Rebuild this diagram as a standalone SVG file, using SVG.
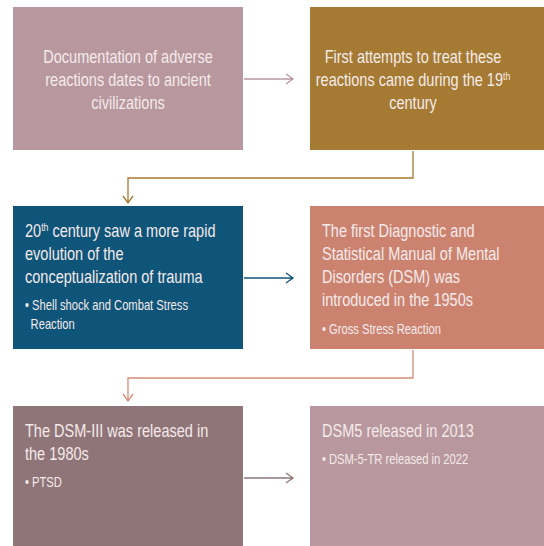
<svg xmlns="http://www.w3.org/2000/svg" width="544" height="546" viewBox="0 0 544 546">
<style>
text{font-family:"Liberation Sans",Arial,sans-serif;fill:#F4EAEA}
.m{font-size:17.5px}
.c{text-anchor:middle}
.b{font-size:14px}
.s{font-size:10.5px}
.ln{fill:none;stroke-width:1.3}
</style>
<rect width="544" height="546" fill="#fff"/>
<g id="n1"><rect x="13" y="7" width="230" height="143" fill="#B8989E"/>
<g transform="translate(128 0) scale(0.83 1)">
<text class="m c" x="0" y="63">Documentation of adverse</text>
<text class="m c" x="0" y="86">reactions dates to ancient</text>
<text class="m c" x="0" y="109">civilizations</text></g></g>
<g id="n2"><rect x="310" y="7" width="234" height="143" fill="#A57A32"/>
<g transform="translate(413 0) scale(0.83 1)">
<text class="m c" x="0" y="63">First attempts to treat these</text>
<text class="m c" x="0" y="86">reactions came during the 19<tspan class="s" dy="-6">th</tspan></text>
<text class="m c" x="0" y="109">century</text></g></g>
<g id="n3"><rect x="13" y="206" width="230" height="143" fill="#0F5479"/>
<g transform="translate(25 0) scale(0.83 1)">
<text class="m" x="0" y="237">20<tspan class="s" dy="-6">th</tspan><tspan dy="6"> century saw a more rapid</tspan></text>
<text class="m" x="0" y="260">evolution of the</text>
<text class="m" x="0" y="283">conceptualization of trauma</text></g>
<g transform="translate(25 0) scale(0.8 1)">
<text class="b" x="0" y="310">• Shell shock and Combat Stress</text>
<text class="b" x="7" y="329">Reaction</text></g></g>
<g id="n4"><rect x="310" y="206" width="234" height="143" fill="#CB8370"/>
<g transform="translate(322 0) scale(0.83 1)">
<text class="m" x="0" y="237">The first Diagnostic and</text>
<text class="m" x="0" y="260">Statistical Manual of Mental</text>
<text class="m" x="0" y="283">Disorders (DSM) was</text>
<text class="m" x="0" y="306">introduced in the 1950s</text></g>
<g transform="translate(322 0) scale(0.8 1)">
<text class="b" x="0" y="334">• Gross Stress Reaction</text></g></g>
<g id="n5"><rect x="13" y="406" width="230" height="140" fill="#907578"/>
<g transform="translate(25 0) scale(0.83 1)">
<text class="m" x="0" y="437">The DSM-III was released in</text>
<text class="m" x="0" y="460">the 1980s</text></g>
<g transform="translate(25 0) scale(0.8 1)">
<text class="b" x="0" y="487">• PTSD</text></g></g>
<g id="n6"><rect x="310" y="406" width="234" height="140" fill="#B8989E"/>
<g transform="translate(322 0) scale(0.83 1)">
<text class="m" x="0" y="437">DSM5 released in 2013</text></g>
<g transform="translate(322 0) scale(0.8 1)">
<text class="b" x="0" y="464">• DSM-5-TR released in 2022</text></g></g>
<g id="connectors">
<path class="ln" stroke="#B8989E" d="M244 79H293M286 74L293 79L286 84"/>
<path class="ln" stroke="#A57A32" d="M413 151V178H128V203M123 196L128 203L133 196"/>
<path class="ln" stroke="#0F5479" d="M244 278H293M286 273L293 278L286 283"/>
<path class="ln" stroke="#D88C75" d="M413 350V378H128V401M123 394L128 401L133 394"/>
<path class="ln" stroke="#907578" d="M244 478H293M286 473L293 478L286 483"/>
</g>
</svg>
